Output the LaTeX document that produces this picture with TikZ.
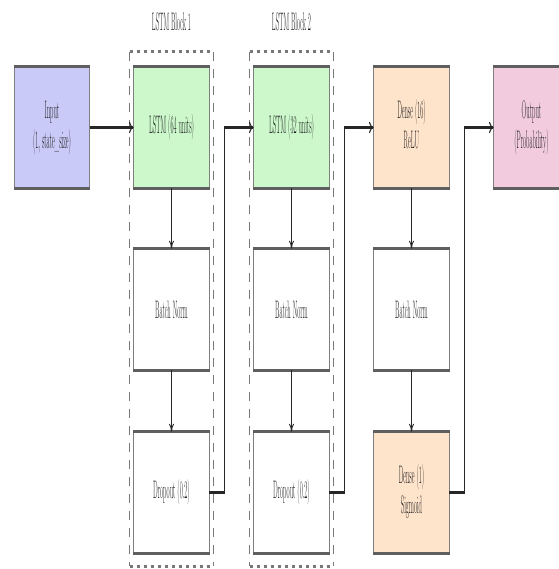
\documentclass[tikz,border=0pt]{standalone}
\usepackage{graphicx}
\usetikzlibrary{arrows.meta}

\definecolor{inputfill}{RGB}{202,202,248}
\definecolor{lstmfill}{RGB}{204,248,204}
\definecolor{densefill}{RGB}{255,228,204}
\definecolor{outfill}{RGB}{242,204,222}
\definecolor{edgegray}{RGB}{95,95,95}
\definecolor{framegray}{RGB}{120,120,120}

% condensed labels
\newcommand\narrow[1]{\scalebox{0.26}[1]{#1}}
\newcommand\twolines[2]{\narrow{\begin{tabular}{@{}c@{}}#1\\#2\end{tabular}}}

\begin{document}
\begin{tikzpicture}[x=0.75pt,y=-0.75pt,
  font=\fontsize{19}{22.5}\selectfont,
  layer/.style={minimum width=56.25pt, minimum height=90.75pt, inner sep=0pt,
                draw=none, text=black!90},
  frame/.style={minimum width=62.25pt, minimum height=385.5pt, inner sep=0pt, draw=none},
  sideline/.style={draw=edgegray!80, line width=0.75pt},
  capline/.style={draw=edgegray, line width=2.2pt},
  framev/.style={draw=framegray, line width=0.75pt, dash pattern=on 6.75pt off 6pt},
  frameh/.style={draw=framegray, line width=2.2pt, dash pattern=on 2.4pt off 2.85pt},
  flowh/.style={draw=black!85, line width=2.4pt},
  flowv/.style={draw=black!85, line width=0.8pt},
  bigtip/.style={-{To[length=3.6pt,width=8.4pt,line width=0.8pt]}},
  smalltip/.style={-{To[length=6pt,width=3.8pt,line width=0.7pt]}},
  title/.style={text=black!90, inner sep=0pt}]

\useasboundingbox (0,0) rectangle (559,569);

% dashed frames of the two LSTM blocks
\node[frame] (blkA) at (171.5,309) {};
\node[frame] (blkB) at (291.5,309) {};
\foreach \b in {blkA,blkB}{
  \draw[framev] (\b.north west) -- (\b.south west);
  \draw[framev] (\b.north east) -- (\b.south east);
  \draw[frameh] (\b.north west) -- (\b.north east);
  \draw[frameh] (\b.south west) -- (\b.south east);
}
\node[title] (ttlA) at (171.5,22) {\narrow{LSTM Block 1}};
\node[title] (ttlB) at (291.5,22) {\narrow{LSTM Block 2}};

% layers
\node[layer, fill=inputfill] (inp)   at (52,127.5)    {\twolines{Input}{(1, state\_size)}};
\node[layer, fill=lstmfill]  (lstmA) at (171.5,127.5) {\narrow{LSTM (64 units)}};
\node[layer, fill=white]     (bnA)   at (171.5,309.5) {\narrow{Batch Norm}};
\node[layer, fill=white]     (dropA) at (171.5,492.5) {\narrow{Dropout (0.2)}};
\node[layer, fill=lstmfill]  (lstmB) at (291.5,127.5) {\narrow{LSTM (32 units)}};
\node[layer, fill=white]     (bnB)   at (291.5,309.5) {\narrow{Batch Norm}};
\node[layer, fill=white]     (dropB) at (291.5,492.5) {\narrow{Dropout (0.2)}};
\node[layer, fill=densefill] (denA)  at (411.5,127.5) {\twolines{Dense (16)}{ReLU}};
\node[layer, fill=white]     (bnC)   at (411.5,309.5) {\narrow{Batch Norm}};
\node[layer, fill=densefill] (denB)  at (411.5,492.5) {\twolines{Dense (1)}{Sigmoid}};
\node[layer, fill=outfill]   (outp)  at (531.5,127.5) {\twolines{Output}{(Probability)}};

% box outlines: thin sides, heavy top and bottom
\foreach \n in {inp,lstmA,bnA,dropA,lstmB,bnB,dropB,denA,bnC,denB,outp}{
  \draw[sideline] (\n.north west) -- (\n.south west);
  \draw[sideline] (\n.north east) -- (\n.south east);
  \draw[capline] ([xshift=-0.4pt]\n.north west) -- ([xshift=0.4pt]\n.north east);
  \draw[capline] ([xshift=-0.4pt]\n.south west) -- ([xshift=0.4pt]\n.south east);
}

% flow inside each column
\draw[flowv, smalltip] (lstmA.south) -- (bnA.north);
\draw[flowv, smalltip] (bnA.south)   -- (dropA.north);
\draw[flowv, smalltip] (lstmB.south) -- (bnB.north);
\draw[flowv, smalltip] (bnB.south)   -- (dropB.north);
\draw[flowv, smalltip] (denA.south)  -- (bnC.north);
\draw[flowv, smalltip] (bnC.south)   -- (denB.north);

% input to first LSTM
\draw[flowh, bigtip] (inp.east) -- (lstmA.west);

% column outputs carried up to the next column
\foreach \src/\dst/\k in {dropA/lstmB/kA, dropB/denA/kB, denB/outp/kC}{
  \path (\src.east) ++(15.5,0) coordinate (\k lo);
  \path (\k lo |- \dst.west) coordinate (\k hi);
  \draw[flowv] (\k lo) -- (\k hi);
  \draw[flowh] (\src.east) -- ([xshift=0.3pt]\k lo);
  \draw[flowh, bigtip] ([xshift=-0.3pt]\k hi) -- (\dst.west);
}
\end{tikzpicture}
\end{document}
